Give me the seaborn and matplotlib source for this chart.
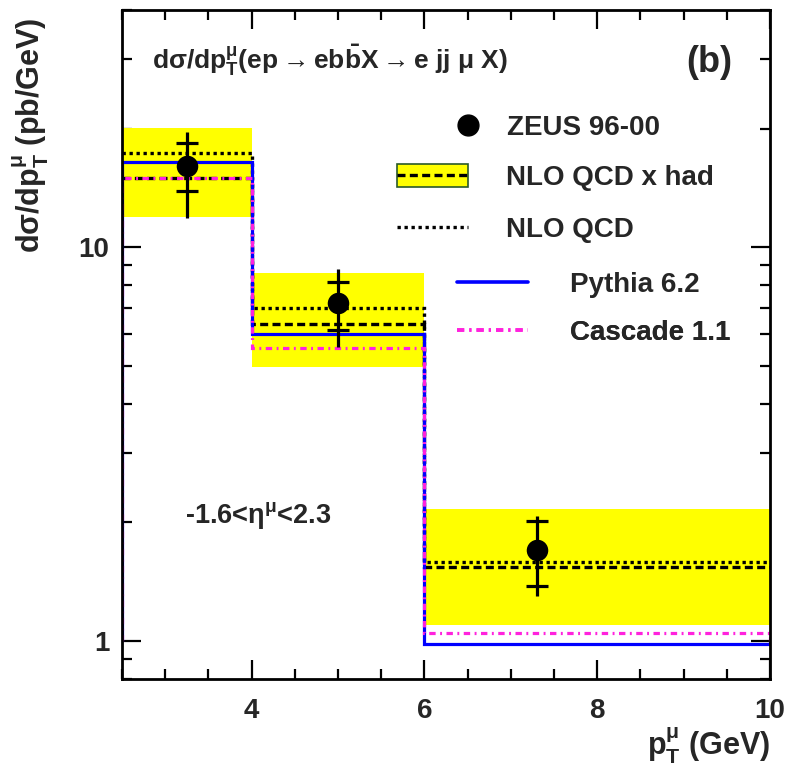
import matplotlib
matplotlib.use('Agg')
import matplotlib.pyplot as plt
import seaborn as sns
import numpy as np
from matplotlib.lines import Line2D
from matplotlib.patches import Patch
from matplotlib.legend_handler import HandlerTuple
from matplotlib.ticker import FixedLocator, FuncFormatter, NullFormatter, MultipleLocator

# bins in pT of the muon (GeV)
pt_edges = [2.5, 4.0, 6.0, 10.0]

# ZEUS 96-00 data
zeus_x = [3.25, 5.0, 7.3]
zeus_y = [16.1, 7.2, 1.70]
stat_up = [2.25, 0.95, 0.31]
stat_dn = [2.25, 1.05, 0.32]
tot_up = [3.55, 1.6, 0.37]
tot_dn = [4.25, 1.62, 0.40]

# theory predictions per bin
nlo_had = [15.0, 6.38, 1.54]
nlo_had_hi = [20.1, 8.59, 2.16]
nlo_had_lo = [11.9, 4.97, 1.10]
nlo_qcd = [17.3, 7.01, 1.585]
pythia = [16.4, 6.02, 0.983]
cascade = [14.95, 5.55, 1.047]

sns.set_style('ticks')
plt.rcParams['font.family'] = ['Liberation Sans', 'DejaVu Sans']
plt.rcParams['font.weight'] = 'bold'
plt.rcParams['mathtext.fontset'] = 'custom'
plt.rcParams['mathtext.rm'] = 'Liberation Sans:bold'
plt.rcParams['mathtext.bf'] = 'Liberation Sans:bold'
plt.rcParams['mathtext.it'] = 'Liberation Sans:bold'
plt.rcParams['mathtext.sf'] = 'Liberation Sans:bold'
plt.rcParams['mathtext.default'] = 'rm'

fig = plt.figure(figsize=(7.89, 7.68), dpi=100)
ax = fig.add_axes([0.1546, 0.1159, 0.8213, 0.8711])

yellow = '#ffff00'
blue = '#0000ff'
magenta = '#ff22dd'
dash_style = (0, (2.4, 1.3))
dot_style = (0, (1.0, 1.1))
dashdot_style = (0, (2.0, 1.4, 0.6, 1.4))

# NLO x had uncertainty band
ax.stairs(nlo_had_hi, pt_edges, baseline=nlo_had_lo, fill=True, color=yellow, lw=0, zorder=1)

ax.stairs(nlo_qcd, pt_edges, baseline=None, color='black', lw=2.4, ls=dot_style, zorder=2)
ax.stairs(nlo_had, pt_edges, baseline=None, color='black', lw=2.4, ls=dash_style, zorder=2)
ax.stairs(pythia, pt_edges, baseline=1.0, color=blue, lw=2.3, zorder=2)
ax.stairs(cascade, pt_edges, baseline=1.0, color=magenta, lw=2.3, ls=dashdot_style, zorder=2)

# data: total error bars, stat error shown as cross ticks
ax.errorbar(zeus_x, zeus_y, yerr=[tot_dn, tot_up], fmt='none', ecolor='black',
            elinewidth=2.3, capsize=0, zorder=3)
ax.errorbar(zeus_x, zeus_y, yerr=[stat_dn, stat_up], fmt='none', ecolor='black',
            elinewidth=0, capsize=8, capthick=2.3, zorder=3)
sns.scatterplot(x=zeus_x, y=zeus_y, color='black', s=240, edgecolor='black',
                linewidth=0, zorder=4, ax=ax)

ax.set_yscale('log')
ax.set_xlim(2.5, 10)
ax.set_ylim(0.8, 40)

ax.xaxis.set_major_locator(MultipleLocator(2))
ax.xaxis.set_minor_locator(MultipleLocator(0.5))
ax.yaxis.set_major_locator(FixedLocator([1, 10]))
ax.yaxis.set_major_formatter(FuncFormatter(lambda v, p: f'{v:g}'))
ax.yaxis.set_minor_formatter(NullFormatter())
ax.tick_params(which='both', direction='in', top=True, right=True, width=1.6,
               labelsize=20, color='black')
ax.tick_params(which='major', length=14)
ax.tick_params(which='minor', length=7)
ax.tick_params(axis='x', pad=14)
ax.tick_params(axis='y', pad=9)
for lab in ax.get_xticklabels() + ax.get_yticklabels():
    lab.set_fontweight('bold')
for sp in ax.spines.values():
    sp.set_linewidth(2.0)
    sp.set_color('black')

# axis titles
ax.text(1.0, -0.1, r'p$_{\rm T}^{\mu}$ (GeV)', transform=ax.transAxes,
        ha='right', va='center', fontsize=22, fontweight='bold')
ax.text(-0.14, 0.988, r'd$\sigma$/dp$_{\rm T}^{\mu}$ (pb/GeV)', transform=ax.transAxes,
        ha='center', va='top', rotation=90, fontsize=22, fontweight='bold')

# annotations
ax.text(0.046, 0.925, r'd$\sigma$/dp$_{\rm T}^{\mu}$(ep$\rightarrow$eb$\bar{\rm b}$X$\rightarrow$e jj $\mu$ X)',
        transform=ax.transAxes, ha='left', va='center', fontsize=19, fontweight='bold')
ax.text(0.941, 0.922, '(b)', transform=ax.transAxes, ha='right', va='center',
        fontsize=26, fontweight='bold')
ax.text(0.097, 0.245, r'-1.6<$\eta^{\mu}$<2.3', transform=ax.transAxes, ha='left',
        va='center', fontsize=19.5, fontweight='bold')

# legend entries, one small legend per row
fs = 20
h_zeus = Line2D([], [], marker='o', color='black', ls='none', markersize=15)
h_had = (Patch(facecolor=yellow, edgecolor='#2a5a2a', lw=1.2),
         Line2D([], [], color='black', lw=2.4, ls=dash_style))
h_qcd = Line2D([], [], color='black', lw=2.4, ls=dot_style)
h_py = Line2D([], [], color=blue, lw=2.6)
h_ca = Line2D([], [], color=magenta, lw=2.6, ls=dashdot_style)

rows = [
    (h_zeus, 'ZEUS 96-00', 0.515, 0.824, 0.86, 0.97, 0.7),
    (h_had, 'NLO QCD x had', 0.424, 0.749, 2.55, 1.4, 0.9),
    (h_qcd, 'NLO QCD', 0.424, 0.671, 2.55, 1.4, 0.7),
    (h_py, 'Pythia 6.2', 0.517, 0.589, 2.55, 1.51, 0.7),
    (h_ca, 'Cascade 1.1', 0.517, 0.517, 2.55, 1.51, 0.7),
]
for h, lab, lx, ly, hl, tp, hh in rows:
    leg = ax.legend([h], [lab], loc='center left', bbox_to_anchor=(lx, ly),
                    frameon=False, borderpad=0, borderaxespad=0, handlelength=hl,
                    handletextpad=tp, handleheight=hh, prop={'size': fs, 'weight': 'bold'},
                    handler_map={tuple: HandlerTuple(ndivide=1)})
    ax.add_artist(leg)

fig.savefig('out.png', dpi=100)
